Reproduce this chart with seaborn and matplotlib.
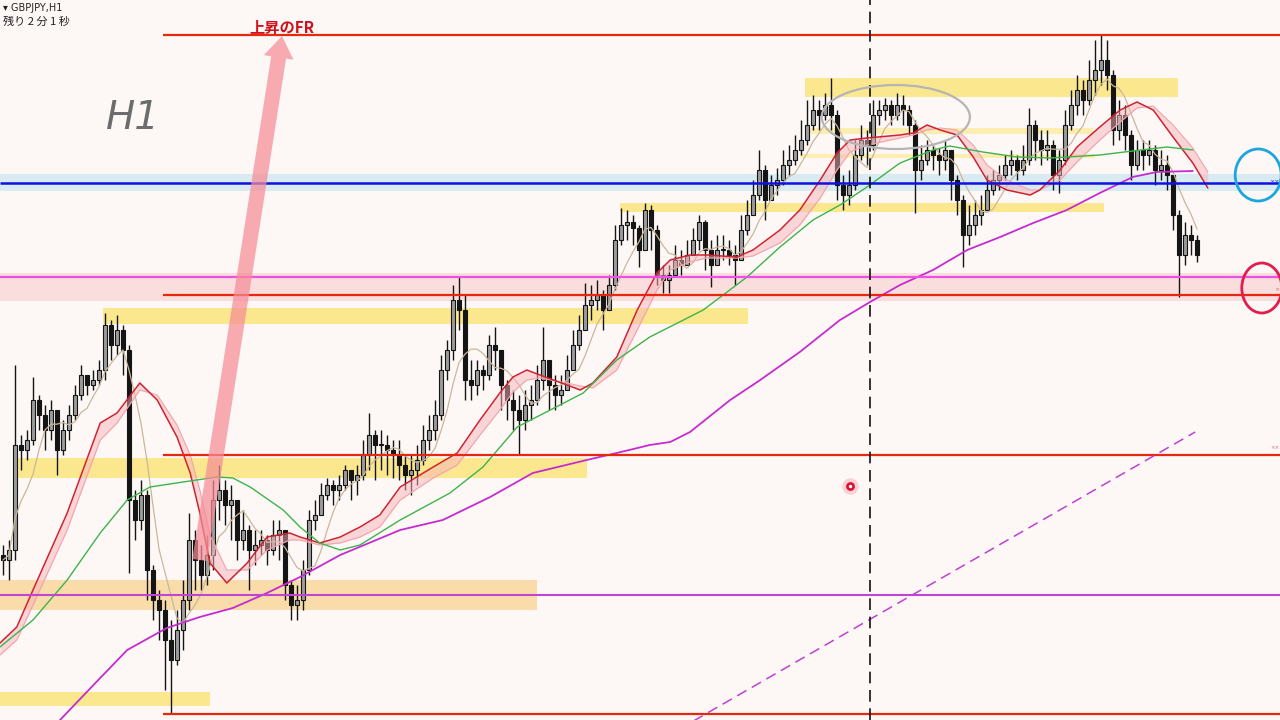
import numpy as np
import pandas as pd
import matplotlib
matplotlib.use("Agg")
import matplotlib.pyplot as plt
from matplotlib.patches import Ellipse, Rectangle
import seaborn as sns

# ---------------- text ----------------
symbol_label = "▾ GBPJPY,H1"
timer_label = "残り 2 分 1 秒"
fr_label = "上昇のFR"
tf_label = "H1"

# ---------------- candles (GBPJPY H1) ----------------
first_open = 184.45
close = [184.40, 184.50, 185.55, 185.50, 185.60, 186.00, 185.85, 185.70, 185.90, 185.50,
         185.70, 185.85, 186.05, 186.25, 186.15, 186.20, 186.30, 186.75, 186.55, 186.70,
         186.50, 185.00, 184.80, 185.05, 184.30, 184.00, 183.90, 183.60, 183.40, 183.70,
         184.00, 184.60, 184.40, 184.25, 184.45, 185.00, 185.10, 184.95, 185.00, 184.60,
         184.70, 184.50, 184.55, 184.60, 184.50, 184.65, 184.70, 184.15, 183.95, 184.00,
         184.30, 184.80, 184.85, 185.05, 185.15, 185.10, 185.15, 185.30, 185.20, 185.25,
         185.45, 185.65, 185.55, 185.55, 185.50, 185.45, 185.35, 185.25, 185.30, 185.40,
         185.60, 185.70, 185.85, 186.30, 186.50, 187.00, 186.90, 186.20, 186.15, 186.30,
         186.25, 186.55, 186.50, 186.15, 186.00, 185.90, 185.80, 185.95, 186.00, 186.20,
         186.40, 186.15, 186.05, 186.10, 186.30, 186.55, 186.70, 186.95, 187.00, 187.05,
         186.90, 187.15, 187.60, 187.75, 187.78, 187.72, 187.50, 187.90, 187.70, 187.25,
         187.20, 187.25, 187.40, 187.35, 187.45, 187.60, 187.78, 187.50, 187.35, 187.50,
         187.50, 187.45, 187.40, 187.70, 187.85, 188.05, 188.30, 188.00, 188.15, 188.20,
         188.35, 188.40, 188.50, 188.60, 188.75, 188.90, 188.85, 188.95, 188.85, 188.15,
         188.05, 188.15, 188.45, 188.60, 188.55, 188.85, 188.90, 188.95, 188.85, 188.95,
         188.90, 188.75, 188.30, 188.40, 188.50, 188.45, 188.40, 188.50, 188.20, 188.00,
         187.65, 187.75, 187.85, 187.90, 188.10, 188.20, 188.25, 188.35, 188.40, 188.30,
         188.40, 188.75, 188.60, 188.50, 188.55, 188.25, 188.40, 188.75, 188.95, 189.10,
         189.00, 189.20, 189.30, 189.40, 189.25, 188.70, 188.85, 188.65, 188.35, 188.50,
         188.45, 188.50, 188.30, 188.35, 188.25, 187.85, 187.45, 187.65, 187.60, 187.45]
high = [184.55, 184.60, 186.35, 185.65, 185.70, 186.23, 186.05, 185.95, 186.00, 185.85,
        185.80, 185.95, 186.15, 186.35, 186.25, 186.30, 186.40, 186.87, 186.80, 186.85,
        186.75, 186.55, 185.10, 185.20, 185.10, 184.35, 184.10, 184.00, 183.80, 183.90,
        184.20, 184.87, 184.70, 184.55, 184.65, 185.20, 185.35, 185.20, 185.15, 185.00,
        184.90, 184.75, 184.70, 184.70, 184.65, 184.80, 184.80, 184.70, 184.20, 184.15,
        184.40, 184.90, 185.00, 185.17, 185.22, 185.20, 185.25, 185.35, 185.30, 185.35,
        185.60, 185.87, 185.70, 185.70, 185.65, 185.60, 185.60, 185.45, 185.45, 185.55,
        185.75, 185.85, 186.00, 186.45, 186.60, 187.15, 187.23, 187.05, 186.40, 186.40,
        186.35, 186.65, 186.73, 186.50, 186.20, 186.10, 186.05, 186.10, 186.15, 186.35,
        186.73, 186.40, 186.25, 186.25, 186.45, 186.70, 186.85, 187.17, 187.15, 187.20,
        187.10, 187.25, 187.75, 187.92, 187.90, 187.85, 187.75, 187.97, 187.95, 187.75,
        187.35, 187.35, 187.55, 187.50, 187.60, 187.72, 187.85, 187.80, 187.60, 187.65,
        187.65, 187.60, 187.55, 187.85, 188.00, 188.20, 188.50, 188.35, 188.25, 188.32,
        188.50, 188.55, 188.65, 188.80, 189.00, 189.05, 189.00, 189.07, 189.22, 188.90,
        188.25, 188.30, 188.60, 188.75, 188.70, 189.00, 189.00, 189.02, 189.00, 189.07,
        189.05, 188.95, 188.80, 188.55, 188.60, 188.55, 188.52, 188.60, 188.50, 188.25,
        188.05, 187.95, 188.00, 188.05, 188.25, 188.30, 188.35, 188.45, 188.50, 188.45,
        188.55, 188.92, 188.80, 188.70, 188.70, 188.60, 188.50, 188.90, 189.10, 189.25,
        189.20, 189.40, 189.60, 189.65, 189.60, 189.30, 189.00, 188.95, 188.70, 188.60,
        188.60, 188.60, 188.55, 188.50, 188.45, 188.25, 187.90, 187.78, 187.75, 187.65]
low = [184.25, 184.20, 184.40, 185.30, 185.40, 185.55, 185.70, 185.50, 185.60, 185.25,
       185.45, 185.60, 185.80, 186.00, 186.05, 186.10, 186.15, 186.20, 186.40, 186.45,
       186.25, 184.27, 184.60, 184.70, 184.00, 183.80, 183.60, 183.10, 182.87, 183.35,
       183.50, 183.90, 184.10, 184.10, 184.15, 184.30, 184.80, 184.75, 184.60, 184.40,
       184.50, 184.10, 184.35, 184.45, 184.35, 184.45, 184.40, 184.00, 183.80, 183.80,
       183.90, 184.25, 184.70, 184.85, 185.00, 184.95, 185.00, 185.10, 185.00, 185.05,
       185.20, 185.30, 185.20, 185.30, 185.25, 185.22, 185.20, 185.10, 185.05, 185.15,
       185.35, 185.50, 185.60, 185.80, 186.20, 186.40, 186.70, 186.00, 186.00, 186.05,
       186.10, 186.20, 186.30, 185.90, 185.80, 185.70, 185.45, 185.70, 185.80, 185.95,
       186.10, 185.90, 185.90, 185.95, 186.10, 186.30, 186.50, 186.70, 186.80, 186.90,
       186.70, 186.90, 187.10, 187.55, 187.60, 187.55, 187.33, 187.60, 187.50, 187.15,
       187.07, 187.07, 187.25, 187.25, 187.35, 187.45, 187.50, 187.30, 187.13, 187.35,
       187.40, 187.35, 187.15, 187.50, 187.65, 187.85, 188.00, 187.80, 188.00, 188.05,
       188.15, 188.25, 188.35, 188.45, 188.55, 188.70, 188.70, 188.80, 188.70, 188.00,
       187.90, 187.95, 188.10, 188.40, 188.35, 188.50, 188.75, 188.80, 188.75, 188.80,
       188.75, 188.65, 187.87, 188.20, 188.35, 188.30, 188.25, 188.30, 188.00, 187.85,
       187.33, 187.55, 187.65, 187.75, 187.95, 188.05, 188.10, 188.20, 188.25, 188.20,
       188.25, 188.35, 188.40, 188.35, 188.40, 188.10, 188.07, 188.35, 188.70, 188.85,
       188.85, 188.95, 189.05, 189.15, 189.10, 188.55, 188.60, 188.50, 188.20, 188.30,
       188.30, 188.35, 188.15, 188.20, 188.10, 187.70, 187.03, 187.35, 187.45, 187.38]

# ---------------- moving averages ----------------
ma_long_t = [9.5, 16.2, 20.7, 27.3, 32.8, 38.3, 44.0, 49.5, 56.2, 66.2, 73.3, 81.2, 88.3,
             97.3, 102.3, 107.8, 111.2, 114.5, 121.2, 126.2, 132.8, 139.5, 144.5, 149.5,
             155.0, 160.7, 166.2, 171.7, 177.3, 182.8, 188.3, 192.3, 198.3]
ma_long_v = [182.80, 183.22, 183.50, 183.72, 183.83, 183.92, 184.07, 184.23, 184.45, 184.70,
             184.80, 185.03, 185.27, 185.40, 185.47, 185.55, 185.58, 185.68, 186.00, 186.20,
             186.48, 186.80, 186.98, 187.15, 187.30, 187.50, 187.63, 187.77, 187.90, 188.07,
             188.23, 188.28, 188.29]

ma_mid_t = [-0.5, 5.0, 10.7, 16.2, 20.7, 24.5, 30.0, 35.7, 38.3, 41.2, 46.7, 49.5, 52.8,
            56.2, 59.5, 66.2, 74.5, 80.0, 85.7, 91.2, 96.7, 102.3, 107.8, 116.7, 124.0,
            129.5, 135.0, 139.5, 144.0, 149.5, 155.0, 157.8, 163.3, 169.0, 174.5, 182.8,
            188.3, 194.0, 198.3]
ma_mid_v = [183.53, 183.80, 184.20, 184.67, 185.00, 185.13, 185.18, 185.23, 185.22, 185.13,
            184.90, 184.73, 184.57, 184.50, 184.55, 184.80, 185.07, 185.33, 185.73, 185.90,
            186.07, 186.40, 186.63, 186.90, 187.23, 187.53, 187.80, 187.95, 188.13, 188.37,
            188.50, 188.54, 188.48, 188.43, 188.42, 188.45, 188.49, 188.53, 188.50]

ribbon_t = [-0.5, 2.3, 5.0, 10.7, 16.2, 19.0, 22.8, 25.7, 29.0, 31.2, 32.8, 34.5, 37.3,
            40.7, 44.0, 47.8, 49.5, 52.8, 56.2, 59.5, 62.8, 66.2, 71.7, 75.7, 79.5, 82.8,
            85.0, 87.3, 89.5, 94.0, 96.2, 98.3, 102.3, 105.7, 109.0, 111.2, 114.5, 117.3,
            122.3, 125.0, 129.5, 132.8, 136.2, 139.0, 141.2, 144.0, 149.5, 151.7, 154.0,
            156.2, 159.0, 161.7, 164.0, 167.3, 171.2, 172.8, 176.2, 179.0, 182.8, 186.2,
            189.0, 191.7, 195.0, 198.3, 200.8]
ribbon_fast = [183.57, 183.73, 184.10, 184.87, 185.77, 185.87, 186.17, 186.00, 185.63, 185.27,
               184.87, 184.37, 184.17, 184.37, 184.63, 184.67, 184.63, 184.57, 184.63, 184.73,
               184.85, 185.13, 185.33, 185.47, 185.80, 186.07, 186.23, 186.30, 186.25, 186.15,
               186.10, 186.17, 186.43, 186.90, 187.27, 187.40, 187.45, 187.45, 187.43, 187.50,
               187.70, 187.90, 188.20, 188.47, 188.60, 188.62, 188.65, 188.67, 188.75, 188.70,
               188.65, 188.43, 188.20, 188.10, 188.05, 188.10, 188.30, 188.53, 188.73, 188.90,
               188.98, 188.90, 188.63, 188.37, 188.12]
ribbon_slow = [183.45, 183.60, 183.95, 184.70, 185.60, 185.77, 186.10, 186.05, 185.75, 185.45,
               185.10, 184.65, 184.30, 184.30, 184.50, 184.60, 184.60, 184.55, 184.57, 184.63,
               184.73, 185.00, 185.22, 185.35, 185.65, 185.90, 186.08, 186.20, 186.22, 186.17,
               186.14, 186.12, 186.30, 186.70, 187.10, 187.30, 187.38, 187.42, 187.42, 187.44,
               187.57, 187.75, 188.02, 188.30, 188.48, 188.55, 188.62, 188.65, 188.70, 188.72,
               188.70, 188.55, 188.35, 188.20, 188.10, 188.10, 188.20, 188.38, 188.60, 188.78,
               188.92, 188.94, 188.75, 188.52, 188.28]

# ---------------- drawn objects ----------------
red_levels = [189.65, 187.05, 185.45, 182.86]
red_level_start = 26.7
magenta_levels = [187.23, 184.05]
blue_level = 188.17
blue_band = [188.09, 188.26]
pink_band = [186.99, 187.27]

zone_t0 = [133.7, 16.7, 2.5, -0.5, -0.5, 102.8, 134.5, 132.8]
zone_t1 = [195.8, 124.2, 97.3, 89.0, 34.5, 183.5, 181.7, 182.0]
zone_lo = [189.03, 186.76, 185.22, 183.90, 182.94, 187.88, 188.66, 188.42]
zone_hi = [189.22, 186.92, 185.42, 184.20, 183.08, 187.97, 188.72, 188.46]
zone_colors = ["#fbe88e", "#fbe88e", "#fbe88e", "#f9dcaa", "#fbe88e", "#fbe88e", "#fbeeb0", "#fbeeb0"]

trend_t = [114.5, 198.7]
trend_p = [182.77, 185.68]
cursor_t = 144.5
ellipse_c = (148.8, 188.83)
arrow_tail = (32.8, 184.40)
arrow_tip = (46.5, 189.64)
dot_pos = (141.2, 185.14)
blue_circle_c = (209.2, 188.25)
red_circle_c = (209.8, 187.12)

# ---------------- style ----------------
bg = "#fdf8f6"
sns.set_theme(style="white")
plt.rcParams["font.family"] = ["DejaVu Sans", "Noto Sans CJK JP"]

fig = plt.figure(figsize=(12.8, 7.2), dpi=100)
fig.patch.set_facecolor(bg)
ax = fig.add_axes([0, 0, 1, 1])
ax.set_xlim(-0.5, 1280 / 6 - 0.5)
ax.set_ylim(182.80, 190.00)
ax.axis("off")

xmin, xmax = ax.get_xlim()

# bands
ax.axhspan(blue_band[0], blue_band[1], color="#d9ebf2", zorder=1, lw=0)
ax.axhspan(pink_band[0], pink_band[1], color="#fadede", zorder=1, lw=0)

# zones
for t0, t1, lo, hi, c in zip(zone_t0, zone_t1, zone_lo, zone_hi, zone_colors):
    ax.add_patch(Rectangle((t0, lo), t1 - t0, hi - lo, facecolor=c, edgecolor="none", zorder=1.5))

# candles
n = len(close)
idx = np.arange(n)
opens = np.array([first_open] + close[:-1])
closes = np.array(close)
highs = np.maximum.reduce([np.array(high), opens, closes])
lows = np.minimum.reduce([np.array(low), opens, closes])
ax.vlines(idx, lows, highs, color="#151515", lw=1.0, zorder=3)
up = closes >= opens
body_lo = np.minimum(opens, closes)
body_h = np.maximum(np.abs(closes - opens), 0.012)
ax.bar(idx[up], body_h[up], bottom=body_lo[up], width=0.55, color="#9c9c9c",
       edgecolor="#151515", linewidth=0.8, zorder=3.1)
ax.bar(idx[~up], body_h[~up], bottom=body_lo[~up], width=0.55, color="#151515",
       edgecolor="#151515", linewidth=0.8, zorder=3.1)

# moving averages
short_ma = pd.Series(closes).rolling(6, min_periods=1).mean()
sns.lineplot(x=idx, y=short_ma.values, ax=ax, color="#c9b79c", lw=0.9, zorder=4)
ax.fill_between(ribbon_t, ribbon_fast, ribbon_slow, color="#f6b4ba", alpha=0.5, lw=0, zorder=4)
sns.lineplot(x=ribbon_t, y=ribbon_slow, ax=ax, color="#f2a3ab", lw=0.8, zorder=4.1)
sns.lineplot(x=ribbon_t, y=ribbon_fast, ax=ax, color="#cf2330", lw=1.1, zorder=4.2)
sns.lineplot(x=ma_mid_t, y=ma_mid_v, ax=ax, color="#3db44b", lw=1.0, zorder=4.3)
sns.lineplot(x=ma_long_t, y=ma_long_v, ax=ax, color="#c52ccf", lw=1.3, zorder=4.3)

# horizontal levels
for lv in red_levels:
    ax.hlines(lv, red_level_start, xmax, color="#e8280e", lw=1.6, zorder=5)
ax.hlines(magenta_levels[0], xmin, xmax, color="#ee4fe6", lw=1.6, zorder=5)
ax.hlines(magenta_levels[1], xmin, xmax, color="#c045d6", lw=1.5, zorder=5)
ax.hlines(blue_level, xmin, xmax, color="#1010e0", lw=1.8, zorder=5)

# trend line and cursor
ax.plot(trend_t, trend_p, color="#c040d0", lw=1.1, ls=(0, (7, 4)), zorder=5)
ax.axvline(cursor_t, color="#111111", lw=1.2, ls=(0, (7, 4)), zorder=5)

# ellipse
ax.add_patch(Ellipse(ellipse_c, 24.7, 0.64, fill=False, edgecolor="#b5b5b5", lw=1.6, zorder=5))

# arrow
ax.annotate("", xy=arrow_tip, xytext=arrow_tail,
            arrowprops=dict(arrowstyle="simple,head_width=1.8,head_length=1.3,tail_width=0.9",
                            color="#f58c96", alpha=0.72, lw=0, shrinkA=0, shrinkB=0), zorder=6)
ax.text(arrow_tip[0], 189.72, fr_label, color="#d0101c", fontsize=11, fontweight="bold",
        ha="center", va="center", family=["Noto Sans CJK JP", "DejaVu Sans"], zorder=7)

# H1 label
ax.text(21.7, 188.82, tf_label, color="#6c6c6c", fontsize=28, style="italic",
        ha="center", va="center", zorder=7)

# red dot
ax.scatter([dot_pos[0]], [dot_pos[1]], s=140, color="#f7b8c0", alpha=0.6, lw=0, zorder=6)
ax.scatter([dot_pos[0]], [dot_pos[1]], s=40, color="#dd1030", lw=0, zorder=6.1)
ax.scatter([dot_pos[0]], [dot_pos[1]], s=6, color="white", lw=0, zorder=6.2)

# right circles
ax.add_patch(Ellipse(blue_circle_c, 7.67, 0.52, fill=False, edgecolor="#1ba6df", lw=2.0, zorder=7))
ax.add_patch(Ellipse(red_circle_c, 6.67, 0.50, fill=False, edgecolor="#e21c4c", lw=2.0, zorder=7))
ax.text(211.9, blue_level + 0.01, "××", color="#3030d0", fontsize=4.5, ha="center", va="center", zorder=7)
ax.text(212.3, 187.10, "×", color="#e07080", fontsize=4.5, ha="center", va="center", zorder=7)
ax.text(211.9, 185.52, "××", color="#e07080", fontsize=4, ha="center", va="center", zorder=7)

# header texts
fig.text(0.002, 1 - 8 / 720, symbol_label, fontsize=7, color="#222222", ha="left", va="center",
         family=["DejaVu Sans", "Noto Sans CJK JP"])
fig.text(0.002, 1 - 22 / 720, timer_label, fontsize=8, color="#222222", ha="left", va="center",
         family=["Noto Sans CJK JP", "DejaVu Sans"])

fig.savefig("out.png", dpi=100, facecolor=bg)
